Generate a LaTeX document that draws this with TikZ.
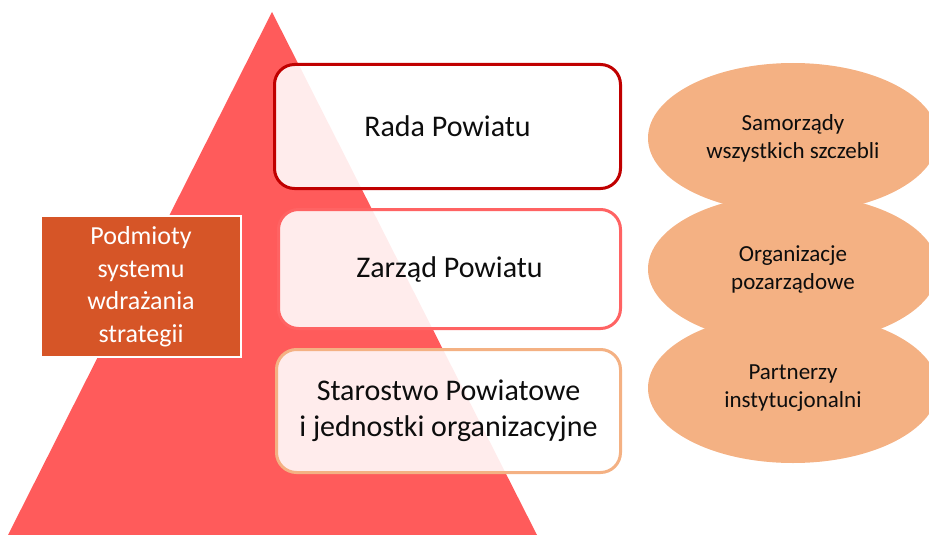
\documentclass[tikz,border=0pt]{standalone}
\usepackage{fontspec}
\setmainfont{Carlito}
\usetikzlibrary{shapes.geometric}
\definecolor{piramida}{HTML}{FF5B5B}
\definecolor{radakolor}{HTML}{C00000}
\definecolor{zarzadkolor}{HTML}{FF6363}
\definecolor{brzoskwinia}{HTML}{F4B183}
\definecolor{podmkolor}{HTML}{D65527}
\definecolor{tekst}{HTML}{0D0D0D}

\begin{document}
\begin{tikzpicture}[x=1pt,y=-1pt]
                \tikzset{level/.style = {shape=rectangle,rounded corners=20pt,line width=3pt,fill=white,fill opacity=0.89,text opacity=1,text=tekst,align=center,font=\fontsize{30}{36}\selectfont}}
                \tikzset{partner/.style = {shape=ellipse,fill=brzoskwinia,inner sep=0pt,minimum width=290pt,minimum height=150pt,text=tekst,align=center,font=\fontsize{23}{28}\selectfont}}
                \useasboundingbox (0,0) rectangle (929,535);

                \fill[piramida] (272,12) -- (537,535) -- (8,535) -- cycle;

                \node[draw=white, line width=2pt, fill=podmkolor, text=white, minimum width=200pt, minimum height=141pt, align=center, font=\fontsize{26}{32.5}\selectfont] (podmioty) at (141,286.5) {Podmioty\\systemu\\wdrażania\\strategii};

                \node[level, draw=radakolor, minimum width=346pt, minimum height=124pt] (rada) at (447.5,126.5) {Rada Powiatu};
                \node[level, draw=zarzadkolor, minimum width=342pt, minimum height=119pt] (zarzad) at (449.5,269) {Zarząd Powiatu};
                \node[level, draw=brzoskwinia, minimum width=344pt, minimum height=123pt] (starostwo) at (448.5,411) {Starostwo Powiatowe\\i jednostki organizacyjne};

                \node[partner] (samorzady) at (793,138) {Samorządy\\wszystkich szczebli};
                \node[partner] (organizacje) at (793,269) {Organizacje\\pozarządowe};
                \node[partner] (partnerzy) at (793,388) {Partnerzy\\instytucjonalni};
            \end{tikzpicture}
\end{document}
